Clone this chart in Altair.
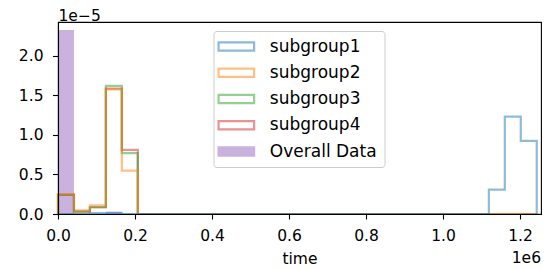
import altair as alt
import numpy as np
import pandas as pd

# ---------------- data (densities, in units of 1e-5) ----------------
t_max = 1.2434e6          # right edge of the last histogram bin
n_bins = 30
subgroup_names = ["subgroup1", "subgroup2", "subgroup3", "subgroup4"]
overall_name = "Overall Data"
series_colors = ["#1f77b4", "#ff7f0e", "#2ca02c", "#d62728", "#9467bd"]

zeros = [0.0]
sub1 = [0.0, 0.0, 0.012, 0.012] + zeros * 23 + [0.307, 1.23, 0.925]
sub2 = [0.25, 0.045, 0.11, 1.575, 0.547] + zeros * 25
sub3 = [0.24, 0.03, 0.085, 1.62, 0.77] + zeros * 25
sub4 = [0.245, 0.03, 0.085, 1.585, 0.81] + zeros * 25
overall = [2.325, 0.0, 0.0, 0.03] + zeros * 26

x_ticks = [0.0, 0.2e6, 0.4e6, 0.6e6, 0.8e6, 1.0e6, 1.2e6]
y_ticks = [0.0, 0.5e-5, 1.0e-5, 1.5e-5, 2.0e-5]
x_domain = [0.0, 1.2545e6]
y_domain = [0.0, 2.426e-5]

# ---------------- tables ----------------
edges = np.linspace(0.0, t_max, n_bins + 1)

step_rows = []
for name, vals in zip(subgroup_names, [sub1, sub2, sub3, sub4]):
    k = 0
    step_rows.append(dict(group=name, k=k, t=edges[0], density=0.0))
    for i, v in enumerate(vals):
        k += 1
        step_rows.append(dict(group=name, k=k, t=edges[i], density=v * 1e-5))
        k += 1
        step_rows.append(dict(group=name, k=k, t=edges[i + 1], density=v * 1e-5))
    k += 1
    step_rows.append(dict(group=name, k=k, t=edges[-1], density=0.0))
steps = pd.DataFrame(step_rows)

bar_rows = [dict(t0=edges[i], t1=edges[i + 1], base=0.0, density=v * 1e-5)
            for i, v in enumerate(overall) if v > 0]
bars_df = pd.DataFrame(bar_rows)

FONT = "DejaVu Sans"
TICK_FS = 15.5
W, H = 483, 192
XLABEL_Y = 49

xs = alt.Scale(domain=x_domain, nice=False, zero=False)
ys = alt.Scale(domain=y_domain, nice=False, zero=False)

x_axis = alt.Axis(values=x_ticks, labelExpr="format(datum.value / 1e6, '.1f')",
                  title="time", titleY=XLABEL_Y, titleBaseline="alphabetic",
                  titleFontSize=TICK_FS, titleFontWeight="normal",
                  labelBaseline="alphabetic", labelPadding=21.5, tickSize=5,
                  labelFlush=False, grid=False, zindex=1)
y_axis = alt.Axis(values=y_ticks, labelExpr="format(datum.value * 1e5, '.1f')",
                  title="1e\u22125", titleAngle=0, titleAlign="left", titleX=0, titleY=-2,
                  titleBaseline="alphabetic", titleFontSize=TICK_FS, titleFontWeight="normal",
                  labelPadding=9.5, tickSize=5.5, labelFlush=False, grid=False, zindex=1)

color_scale = alt.Scale(domain=subgroup_names + [overall_name], range=series_colors)
legend = alt.Legend(
    title=None, orient="none", legendX=155.5, legendY=9,
    symbolType="M-2.96,-0.675H2.96V0.675H-2.96Z", symbolSize=144,
    symbolStrokeWidth=2.2, symbolOpacity=0.5, symbolOffset=7.35,
    symbolFillColor={"expr": "datum.value === 'Overall Data' ? '#9467bd' : 'transparent'"},
    labelFont=FONT, labelFontSize=17, labelColor="black", labelOffset=25,
    rowPadding=8.25, padding=7, strokeColor="#cccccc", fillColor="rgba(255,255,255,0.8)",
    cornerRadius=3,
)

bars = alt.Chart(bars_df).mark_rect(color="#9467bd", opacity=0.5).encode(
    x=alt.X("t0:Q", scale=xs, axis=x_axis),
    x2="t1:Q",
    y=alt.Y("density:Q", scale=ys, axis=y_axis),
    y2="base:Q",
)

line_layers = []
for name in reversed(subgroup_names):
    line_layers.append(
        alt.Chart(steps[steps.group == name]).mark_line(
            strokeWidth=2.2, opacity=0.5, strokeJoin="miter", strokeCap="butt"
        ).encode(
            x=alt.X("t:Q", scale=xs, axis=x_axis),
            y=alt.Y("density:Q", scale=ys, axis=y_axis),
            order="k:Q",
            color=alt.Color("group:N", scale=color_scale, legend=legend),
        )
    )

offset_text = alt.Chart(pd.DataFrame({"label": ["1e6"]})).mark_text(
    align="right", baseline="alphabetic", font=FONT, fontSize=TICK_FS, color="black"
).encode(x=alt.value(W), y=alt.value(H + XLABEL_Y), text="label:N")

chart = alt.layer(bars, *line_layers, offset_text).properties(
    width=W, height=H,
    autosize=alt.AutoSizeParams(type="none"),
    padding={"left": 50, "top": 14, "right": 5, "bottom": 55},
).configure_view(stroke="black", strokeWidth=1.1).configure_axis(
    labelFont=FONT, titleFont=FONT, labelFontSize=TICK_FS, labelColor="black",
    titleColor="black", domainColor="black", tickColor="black",
    domainWidth=1.1, tickWidth=1.1,
)

chart.save("out.html", embed_options={"renderer": "svg", "actions": False})
